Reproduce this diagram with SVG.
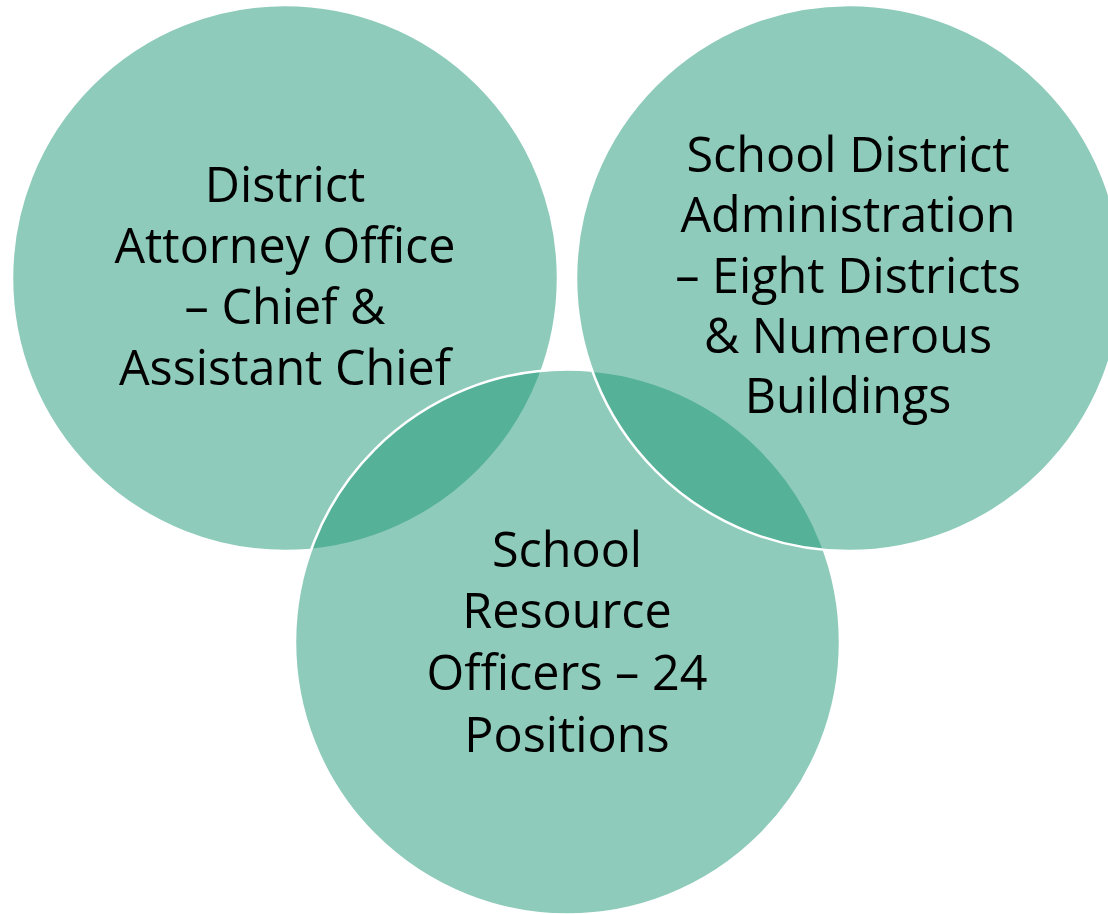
<svg xmlns="http://www.w3.org/2000/svg" width="1108" height="914" viewBox="0 0 1108 914">
<style>
.c{fill:#1d9777;fill-opacity:0.5;stroke:#ffffff;stroke-width:2.5}
.t{font-family:"Open Sans","Liberation Sans",sans-serif;font-size:48.5px;fill:#000000;text-anchor:middle}
</style>
<rect width="1108" height="914" fill="#ffffff"/>
<g id="node-da">
<circle class="c" cx="285" cy="278" r="273"/>
</g>
<g id="node-sro">
<circle class="c" cx="567.5" cy="642" r="272.5"/>
</g>
<g id="node-sda">
<circle class="c" cx="849" cy="278" r="273"/>
</g>
<g id="labels">
<text class="t" x="285" y="202">District</text>
<text class="t" x="285" y="263">Attorney Office</text>
<text class="t" x="285" y="324">– Chief &amp;</text>
<text class="t" x="285" y="385">Assistant Chief</text>
<text class="t" x="848" y="172">School District</text>
<text class="t" x="848" y="232">Administration</text>
<text class="t" x="848" y="293">– Eight Districts</text>
<text class="t" x="848" y="353">&amp; Numerous</text>
<text class="t" x="848" y="413">Buildings</text>
<text class="t" x="567" y="567">School</text>
<text class="t" x="567" y="628">Resource</text>
<text class="t" x="567" y="690">Officers – 24</text>
<text class="t" x="567" y="752">Positions</text>
</g>
<g id="connectors"/>
</svg>
